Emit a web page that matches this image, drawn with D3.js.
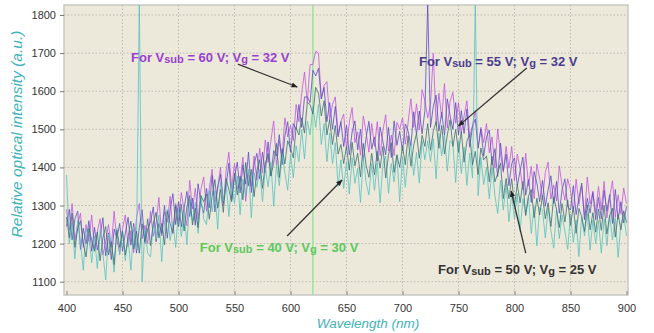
<!DOCTYPE html>
<html>
<head>
<meta charset="utf-8">
<script src="https://cdn.jsdelivr.net/npm/d3@7"></script>
<style>
  body { margin: 0; background: #fff; }
  svg { display: block; font-family: "Liberation Sans", Arial, sans-serif; }
</style>
</head>
<body>
<svg id="chart" width="654" height="333"></svg>
<script>
// wavelength grid: 400 -> 900 nm, every 2.5 nm
const wavelengths = d3.range(201).map((i) => 400 + i * 2.5);

// Vsub = 60 V; Vg = 32 V (magenta)
const s60 = [
  1290,1235,1305,1210,1250,1280,1190,1250,1205,1275,
  1185,1230,1265,1170,1205,1250,1190,1285,1210,1175,
  1238,1275,1192,1234,1176,1268,1305,1212,1248,1200,
  1285,1219,1252,1321,1220,1283,1256,1324,1227,1305,
  1260,1334,1288,1247,1366,1291,1345,1264,1342,1375,
  1285,1345,1395,1310,1345,1400,1300,1390,1440,1345,
  1410,1344,1363,1427,1311,1386,1350,1430,1366,1450,
  1385,1472,1413,1470,1522,1404,1470,1427,1530,1480,
  1510,1470,1565,1520,1595,1650,1570,1670,1670,1705,
  1700,1580,1615,1625,1525,1565,1585,1485,1520,1540,
  1445,1518,1557,1465,1493,1432,1535,1493,1440,1515,
  1455,1520,1431,1496,1538,1443,1485,1431,1518,1500,
  1530,1461,1518,1580,1505,1567,1498,1604,1575,1530,
  1565,1700,1510,1595,1530,1620,1503,1573,1597,1516,
  1570,1490,1535,1575,1480,1510,1550,1450,1505,1465,
  1515,1438,1480,1398,1501,1434,1387,1455,1398,1455,
  1365,1435,1396,1341,1437,1352,1403,1318,1409,1370,
  1315,1387,1414,1317,1354,1312,1404,1351,1314,1370,
  1340,1284,1369,1303,1352,1271,1375,1304,1338,1281,
  1350,1289,1363,1267,1321,1365,1269,1328,1277,1346,1305
];

// Vsub = 55 V; Vg = 32 V (blue-violet)
const s55 = [
  1245,1290,1210,1265,1285,1185,1240,1200,1260,1180,
  1243,1183,1218,1268,1168,1228,1158,1238,1213,1253,
  1180,1227,1269,1196,1253,1175,1242,1289,1201,1238,
  1257,1296,1205,1253,1227,1300,1214,1288,1331,1250,
  1310,1244,1293,1337,1271,1319,1248,1357,1306,1280,
  1345,1294,1379,1283,1348,1382,1307,1351,1411,1315,
  1375,1414,1333,1407,1356,1440,1334,1408,1437,1370,
  1440,1386,1467,1378,1444,1430,1486,1407,1483,1520,
  1440,1515,1500,1565,1505,1585,1585,1570,1655,1640,
  1660,1580,1610,1520,1570,1500,1560,1480,1520,1455,
  1510,1433,1493,1522,1446,1500,1418,1478,1521,1448,
  1480,1416,1506,1467,1433,1505,1426,1522,1458,1495,
  1443,1514,1495,1456,1546,1487,1548,1488,1549,1830,
  1505,1560,1590,1495,1545,1485,1580,1535,1500,1570,
  1485,1549,1489,1553,1453,1507,1527,1451,1501,1430,
  1480,1498,1406,1449,1376,1464,1392,1435,1352,1410,
  1425,1351,1391,1427,1327,1368,1308,1389,1359,1310,
  1366,1298,1341,1378,1305,1363,1280,1342,1370,1297,
  1288,1352,1276,1320,1359,1263,1319,1280,1334,1263,
  1321,1265,1340,1285,1329,1253,1342,1265,1310,1254,1298
];

// Vsub = 50 V; Vg = 25 V (dark teal)
const s50 = [
  1270,1215,1280,1190,1240,1260,1200,1165,1240,1210,
  1180,1230,1155,1215,1245,1170,1205,1145,1235,1190,
  1233,1170,1217,1259,1186,1233,1175,1252,1204,1265,
  1195,1253,1282,1215,1253,1197,1285,1253,1227,1300,
  1245,1304,1233,1297,1326,1249,1293,1242,1326,1310,
  1330,1264,1324,1368,1293,1342,1282,1371,1341,1310,
  1385,1328,1377,1315,1413,1352,1395,1323,1392,1420,
  1345,1411,1436,1377,1412,1463,1373,1449,1409,1470,
  1450,1425,1505,1485,1530,1490,1570,1565,1540,1610,
  1595,1535,1575,1485,1525,1460,1510,1435,1460,1410,
  1455,1393,1466,1404,1437,1375,1463,1406,1374,1437,
  1380,1442,1398,1455,1372,1433,1465,1387,1433,1400,
  1457,1407,1483,1403,1458,1489,1424,1484,1455,1515,
  1445,1495,1520,1450,1510,1435,1485,1525,1455,1500,
  1440,1494,1414,1468,1488,1407,1442,1381,1451,1420,
  1430,1362,1429,1362,1384,1411,1318,1371,1318,1370,
  1300,1356,1307,1363,1274,1326,1342,1268,1319,1275,
  1327,1265,1307,1245,1322,1290,1242,1305,1257,1315,
  1248,1298,1227,1292,1271,1232,1302,1236,1281,1230,
  1290,1235,1300,1225,1274,1293,1217,1277,1236,1286,1255
];

// Vsub = 40 V; Vg = 30 V (light teal)
const s40 = [
  1380,1200,1255,1160,1260,1205,1130,1240,1215,1150,
  1220,1135,1235,1175,1105,1225,1205,1125,1240,1170,
  1233,1155,1217,1130,1244,1186,1830,1100,1238,1175,
  1165,1253,1212,1275,1153,1257,1290,1208,1257,1190,
  1290,1219,1283,1197,1316,1259,1308,1227,1326,1265,
  1250,1339,1284,1338,1238,1362,1312,1361,1271,1360,
  1305,1378,1276,1369,1327,1395,1268,1386,1348,1395,
  1310,1399,1349,1413,1298,1407,1352,1436,1386,1340,
  1435,1373,1457,1415,1499,1422,1521,1485,1560,1505,
  1565,1460,1515,1415,1490,1410,1465,1350,1420,1345,
  1415,1330,1425,1358,1398,1308,1426,1360,1328,1410,
  1340,1412,1307,1408,1430,1332,1410,1362,1433,1310,
  1428,1348,1428,1459,1379,1439,1359,1469,1420,1470,
  1415,1475,1370,1490,1430,1485,1390,1470,1460,1360,
  1470,1384,1454,1353,1438,1372,1830,1326,1426,1355,
  1400,1317,1399,1327,1279,1366,1288,1356,1258,1330,
  1265,1331,1232,1318,1274,1321,1227,1298,1194,1295,
  1288,1215,1293,1235,1188,1290,1213,1275,1233,1185,
  1278,1203,1262,1166,1271,1220,1279,1183,1262,1200,
  1260,1175,1265,1195,1275,1210,1268,1164,1252,1275,1220
];

const xTicks = [400, 450, 500, 550, 600, 650, 700, 750, 800, 850, 900];
const yTicks = [1100, 1200, 1300, 1400, 1500, 1600, 1700, 1800];
const markerLines = [620];

const series = [
  { name: "60", values: s60, color: "#c455e4" },
  { name: "55", values: s55, color: "#5b4fc4" },
  { name: "40", values: s40, color: "#55c4c0" },
  { name: "50", values: s50, color: "#3a7276" }
];

// annotation text anchored in data coordinates, arrow from -> to
const annotations = [
  { label: "60", vg: "32", color: "#9a3fd0", tx: 457.6, ty: 1676, from: [553, 1671], to: [606, 1611] },
  { label: "55", vg: "32", color: "#4a3d8f", tx: 714.7, ty: 1666, from: [811, 1661], to: [750, 1509] },
  { label: "40", vg: "30", color: "#5cc85c", tx: 519, ty: 1178, from: [597, 1220], to: [646, 1367] },
  { label: "50", vg: "25", color: "#333333", tx: 731.7, ty: 1120, from: [810, 1175], to: [797, 1338] }
];

const svg = d3.select("#chart");
const x = d3.scaleLinear().domain([400, 900]).range([66.5, 626.5]);
const y = d3.scaleLinear().domain([1100, 1800]).range([281.7, 15]);

const frame = { left: 64, right: 628, top: 5, bottom: 295 };

// plot background
svg.append("rect")
  .attr("x", frame.left).attr("y", frame.top)
  .attr("width", frame.right - frame.left).attr("height", frame.bottom - frame.top)
  .attr("fill", "#ece8da")
  .attr("stroke", "#c8c8c4")
  .attr("stroke-width", 1.5);

svg.append("defs").append("clipPath").attr("id", "clip")
  .append("rect")
  .attr("x", frame.left).attr("y", frame.top)
  .attr("width", frame.right - frame.left).attr("height", frame.bottom - frame.top);

// grid
const grid = svg.append("g").attr("stroke", "#bdbab0").attr("stroke-dasharray", "1.5,2").attr("stroke-width", 1);
grid.selectAll(".gy").data(yTicks).enter().append("line")
  .attr("x1", frame.left).attr("x2", frame.right)
  .attr("y1", (d) => y(d)).attr("y2", (d) => y(d));
grid.selectAll(".gx").data(xTicks.slice(1, -1)).enter().append("line")
  .attr("y1", frame.top).attr("y2", frame.bottom)
  .attr("x1", (d) => x(d)).attr("x2", (d) => x(d));

const plot = svg.append("g").attr("clip-path", "url(#clip)");

// green reference line
plot.selectAll(".marker").data(markerLines).enter().append("line")
  .attr("x1", (d) => x(d)).attr("x2", (d) => x(d))
  .attr("y1", frame.top).attr("y2", frame.bottom)
  .attr("stroke", "#8ee08e").attr("stroke-width", 1.2);

const line = d3.line()
  .x((d, i) => x(wavelengths[i]))
  .y((d) => y(d));

plot.selectAll(".series").data(series).enter().append("path")
  .attr("d", (d) => line(d.values))
  .attr("fill", "none")
  .attr("stroke", (d) => d.color)
  .attr("stroke-width", 0.9)
  .attr("stroke-opacity", 0.9)
  .attr("stroke-linejoin", "round");

// axes
const yAxis = svg.append("g")
  .attr("transform", `translate(${frame.left},0)`)
  .call(d3.axisLeft(y).tickValues(yTicks).tickSize(4).tickFormat(d3.format("d")));
yAxis.select(".domain").remove();
yAxis.selectAll("line").attr("stroke", "#777");
yAxis.selectAll("text").attr("fill", "#333").attr("font-size", 11).attr("dx", "-1");

const xAxis = svg.append("g")
  .attr("transform", `translate(0,${frame.bottom})`)
  .call(d3.axisBottom(x).tickValues(xTicks).tickSize(-4).tickPadding(9).tickFormat(d3.format("d")));
xAxis.select(".domain").remove();
xAxis.selectAll("line").attr("stroke", "#888");
xAxis.selectAll("text").attr("fill", "#333").attr("font-size", 11);

// axis titles
svg.append("text")
  .attr("transform", "translate(22,134) rotate(-90)")
  .attr("text-anchor", "middle")
  .attr("font-size", 15.5)
  .attr("font-style", "italic")
  .attr("fill", "#3fb3ba")
  .text("Relative optical intensity (a.u.)");

svg.append("text")
  .attr("x", 368).attr("y", 328)
  .attr("text-anchor", "middle")
  .attr("font-size", 13.5)
  .attr("font-style", "italic")
  .attr("fill", "#3fb3ba")
  .text("Wavelength (nm)");

// annotations
svg.append("defs").append("marker")
  .attr("id", "arrow")
  .attr("viewBox", "0 0 10 10")
  .attr("refX", 9).attr("refY", 5)
  .attr("markerWidth", 5).attr("markerHeight", 5)
  .attr("orient", "auto")
  .append("path").attr("d", "M0,1 L10,5 L0,9 Z").attr("fill", "#222");

const notes = svg.append("g");
annotations.forEach((a) => {
  notes.append("line")
    .attr("x1", x(a.from[0])).attr("y1", y(a.from[1]))
    .attr("x2", x(a.to[0])).attr("y2", y(a.to[1]))
    .attr("stroke", "#333").attr("stroke-width", 1.3)
    .attr("marker-end", "url(#arrow)");
  const t = notes.append("text")
    .attr("x", x(a.tx)).attr("y", y(a.ty))
    .attr("font-size", 13)
    .attr("font-weight", "bold")
    .attr("fill", a.color);
  t.append("tspan").text("For V");
  t.append("tspan").attr("font-size", 11).attr("dy", 1).text("sub");
  t.append("tspan").attr("dy", -1).text(` = ${a.label} V; V`);
  t.append("tspan").attr("font-size", 11).attr("dy", 1).text("g");
  t.append("tspan").attr("dy", -1).text(` = ${a.vg} V`);
});
</script>
</body>
</html>
